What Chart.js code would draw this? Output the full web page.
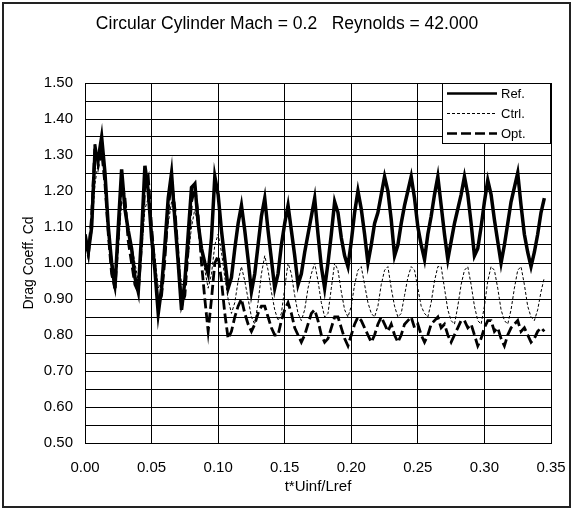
<!DOCTYPE html>
<html>
<head>
<meta charset="utf-8">
<script src="https://cdn.jsdelivr.net/npm/chart.js@4/dist/chart.umd.min.js"></script>
<style>
  html, body { margin: 0; padding: 0; background: #fff; }
  #chart { display: block; }
</style>
</head>
<body>
<canvas id="chart" width="574" height="511"></canvas>
<script>
// time axis (t*Uinf/Lref)
var times = [
    0, 0.0025, 0.005, 0.0075, 0.01, 0.0125, 0.015, 0.0175, 0.02, 0.0225,
    0.025, 0.0275, 0.03, 0.0325, 0.035, 0.0375, 0.04, 0.0425, 0.045, 0.0475,
    0.05, 0.0525, 0.055, 0.0575, 0.06, 0.0625, 0.065, 0.0675, 0.07, 0.0725,
    0.075, 0.0775, 0.08, 0.0825, 0.085, 0.0875, 0.09, 0.0925, 0.095, 0.0975,
    0.1, 0.1025, 0.105, 0.1075, 0.11, 0.1125, 0.115, 0.1175, 0.12, 0.1225,
    0.125, 0.1275, 0.13, 0.1325, 0.135, 0.1375, 0.14, 0.1425, 0.145, 0.1475,
    0.15, 0.1525, 0.155, 0.1575, 0.16, 0.1625, 0.165, 0.1675, 0.17, 0.1725,
    0.175, 0.1775, 0.18, 0.1825, 0.185, 0.1875, 0.19, 0.1925, 0.195, 0.1975,
    0.2, 0.2025, 0.205, 0.2075, 0.21, 0.2125, 0.215, 0.2175, 0.22, 0.2225,
    0.225, 0.2275, 0.23, 0.2325, 0.235, 0.2375, 0.24, 0.2425, 0.245, 0.2475,
    0.25, 0.2525, 0.255, 0.2575, 0.26, 0.2625, 0.265, 0.2675, 0.27, 0.2725,
    0.275, 0.2775, 0.28, 0.2825, 0.285, 0.2875, 0.29, 0.2925, 0.295, 0.2975,
    0.3, 0.3025, 0.305, 0.3075, 0.31, 0.3125, 0.315, 0.3175, 0.32, 0.3225,
    0.325, 0.3275, 0.33, 0.3325, 0.335, 0.3375, 0.34, 0.3425, 0.345
];

// drag coefficient, reference run
var cdRef = [
    1.08, 1.03, 1.10, 1.31, 1.29, 1.35, 1.25, 1.10, 1.00, 0.93,
    1.10, 1.26, 1.15, 1.09, 1.04, 0.96, 0.92, 1.08, 1.27, 1.20,
    1.07, 0.98, 0.86, 0.93, 1.05, 1.18, 1.25, 1.12, 1.00, 0.87,
    0.95, 1.08, 1.21, 1.22, 1.11, 1.04, 1.00, 0.97, 1.07, 1.24,
    1.19, 1.09, 1.01, 0.93, 0.96, 1.04, 1.11, 1.16, 1.09, 1.01,
    0.92, 0.97, 1.05, 1.13, 1.18, 1.09, 1.01, 0.93, 0.97, 1.05,
    1.11, 1.16, 1.09, 1.02, 0.94, 0.97, 1.03, 1.08, 1.13, 1.18,
    1.08, 0.99, 0.93, 1.00, 1.08, 1.17, 1.14, 1.07, 1.02, 0.99,
    1.06, 1.14, 1.20, 1.15, 1.08, 1.00, 1.05, 1.11, 1.14, 1.19,
    1.24, 1.20, 1.12, 1.02, 1.05, 1.11, 1.16, 1.20, 1.24, 1.18,
    1.10, 1.05, 1.01, 1.08, 1.13, 1.19, 1.24, 1.16, 1.08, 1.01,
    1.06, 1.11, 1.15, 1.19, 1.24, 1.19, 1.11, 1.02, 1.04, 1.10,
    1.17, 1.23, 1.19, 1.12, 1.06, 1.00, 1.05, 1.11, 1.17, 1.21,
    1.25, 1.16, 1.08, 1.03, 0.99, 1.03, 1.08, 1.14, 1.18
];

// controlled run
var cdCtrl = [
    1.08, 1.04, 1.08, 1.22, 1.28, 1.30, 1.24, 1.12, 1.02, 0.96,
    1.04, 1.17, 1.16, 1.10, 1.05, 1.00, 0.95, 1.03, 1.15, 1.18,
    1.10, 1.02, 0.93, 0.95, 1.02, 1.11, 1.17, 1.12, 1.03, 0.94,
    0.94, 1.02, 1.10, 1.15, 1.10, 1.03, 0.98, 0.93, 0.97, 1.05,
    1.08, 1.03, 0.96, 0.90, 0.86, 0.89, 0.95, 0.99, 0.95, 0.90,
    0.85, 0.83, 0.89, 0.97, 1.02, 0.98, 0.92, 0.87, 0.84, 0.86,
    0.93, 1.00, 0.97, 0.91, 0.86, 0.84, 0.87, 0.93, 0.97, 1.00,
    0.95, 0.89, 0.85, 0.86, 0.93, 1.00, 0.98, 0.92, 0.87, 0.85,
    0.88, 0.94, 0.98, 0.99, 0.94, 0.89, 0.86, 0.85, 0.88, 0.94,
    0.98, 0.99, 0.93, 0.88, 0.85, 0.86, 0.91, 0.96, 0.99, 0.98,
    0.93, 0.88, 0.86, 0.85, 0.89, 0.95, 0.99, 0.99, 0.93, 0.87,
    0.84, 0.83, 0.88, 0.94, 0.98, 0.99, 0.94, 0.88, 0.84, 0.83,
    0.88, 0.95, 0.99, 0.98, 0.93, 0.87, 0.84, 0.83, 0.87, 0.93,
    0.98, 0.99, 0.94, 0.88, 0.85, 0.84, 0.87, 0.92, 0.96
];

// optimised run
var cdOpt = [
    1.06, 1.02, 1.13, 1.33, 1.27, 1.31, 1.22, 1.08, 0.97, 0.93,
    1.07, 1.22, 1.18, 1.06, 1.00, 0.94, 0.92, 1.05, 1.22, 1.24,
    1.10, 0.99, 0.88, 0.91, 1.01, 1.15, 1.23, 1.15, 1.02, 0.88,
    0.91, 1.04, 1.17, 1.21, 1.13, 1.00, 0.90, 0.81, 0.90, 1.00,
    1.02, 0.95, 0.86, 0.79, 0.81, 0.85, 0.88, 0.90, 0.86, 0.83,
    0.81, 0.83, 0.86, 0.88, 0.88, 0.85, 0.82, 0.80, 0.80, 0.84,
    0.87, 0.89, 0.86, 0.82, 0.80, 0.78, 0.80, 0.83, 0.86, 0.87,
    0.84, 0.80, 0.78, 0.79, 0.82, 0.85, 0.85, 0.82, 0.79, 0.77,
    0.80, 0.83, 0.85, 0.84, 0.82, 0.80, 0.78, 0.80, 0.83, 0.85,
    0.83, 0.81, 0.83, 0.80, 0.78, 0.80, 0.83, 0.84, 0.85, 0.82,
    0.83, 0.80, 0.78, 0.80, 0.83, 0.84, 0.85, 0.82, 0.83, 0.80,
    0.78, 0.80, 0.82, 0.84, 0.84, 0.82, 0.83, 0.80, 0.77, 0.79,
    0.82, 0.84, 0.84, 0.81, 0.82, 0.79, 0.77, 0.80, 0.82, 0.83,
    0.84, 0.81, 0.82, 0.80, 0.78, 0.79, 0.81, 0.82, 0.81
];

var seriesNames = ['Ref.', 'Ctrl.', 'Opt.'];
var xTickLabels = ['0.00', '0.05', '0.10', '0.15', '0.20', '0.25', '0.30', '0.35'];
var yTickLabels = ['0.50', '0.60', '0.70', '0.80', '0.90', '1.00', '1.10', '1.20', '1.30', '1.40', '1.50'];

var fontName = '"Liberation Sans", Arial, sans-serif';

function toPoints(values) {
    return values.map(function(v, i) {
        return { x: times[i], y: v };
    });
}

// white page and outer frame
var framePlugin = {
    id: 'frame',
    beforeDraw: function(chart) {
        var ctx = chart.ctx;
        ctx.save();
        ctx.fillStyle = '#fff';
        ctx.fillRect(0, 0, chart.width, chart.height);
        ctx.restore();
    },
    afterDraw: function(chart) {
        var ctx = chart.ctx;
        ctx.save();
        ctx.strokeStyle = '#222';
        ctx.lineWidth = 2;
        ctx.strokeRect(3, 3, chart.width - 7, chart.height - 7);
        ctx.restore();
    }
};

// boxed legend in the top right corner of the plot
var boxLegendPlugin = {
    id: 'boxLegend',
    afterDatasetsDraw: function(chart) {
        var ctx = chart.ctx;
        var area = chart.chartArea;
        var w = 109, h = 61;
        var left = area.right - w, top = area.top;
        ctx.save();
        ctx.fillStyle = '#fff';
        ctx.fillRect(left, top, w, h);
        ctx.strokeStyle = '#000';
        ctx.lineWidth = 1;
        ctx.strokeRect(left + 0.5, top + 0.5, w - 1, h - 1);
        ctx.font = '13px ' + fontName;
        ctx.textBaseline = 'middle';
        ctx.textAlign = 'left';
        chart.data.datasets.forEach(function(ds, i) {
            var y = top + 10.5 + i * 20;
            ctx.beginPath();
            ctx.setLineDash(ds.borderDash || []);
            ctx.lineWidth = Math.min(ds.borderWidth, 2.5);
            ctx.strokeStyle = ds.borderColor;
            ctx.moveTo(left + 5, y);
            ctx.lineTo(left + 55, y);
            ctx.stroke();
            ctx.setLineDash([]);
            ctx.fillStyle = '#000';
            ctx.fillText(seriesNames[i], left + 59, y + 0.5);
        });
        ctx.restore();
    }
};

var ctx = document.getElementById('chart').getContext('2d');
var chart = new Chart(ctx, {
    type: 'line',
    data: {
        datasets: [{
            label: seriesNames[0],
            data: toPoints(cdRef),
            borderColor: '#000',
            borderWidth: 3.5,
            pointRadius: 0,
            tension: 0
        }, {
            label: seriesNames[1],
            data: toPoints(cdCtrl),
            borderColor: '#000',
            borderWidth: 1,
            borderDash: [3, 2],
            pointRadius: 0,
            tension: 0
        }, {
            label: seriesNames[2],
            data: toPoints(cdOpt),
            borderColor: '#000',
            borderWidth: 2.8,
            borderDash: [10, 4],
            pointRadius: 0,
            tension: 0
        }]
    },
    options: {
        responsive: false,
        animation: false,
        devicePixelRatio: 1,
        layout: { padding: 0 },
        plugins: {
            legend: { display: false },
            tooltip: { enabled: false },
            title: {
                display: true,
                text: 'Circular Cylinder Mach = 0.2   Reynolds = 42.000',
                color: '#000',
                font: { family: fontName, size: 17.5, weight: 'normal' },
                padding: { top: 14, bottom: 48 }
            }
        },
        scales: {
            x: {
                type: 'linear',
                min: 0,
                max: 0.35,
                afterFit: function(scale) {
                    scale.height = 68;
                    scale.paddingLeft = 0;
                    scale.paddingRight = 0;
                },
                ticks: {
                    stepSize: 0.05,
                    color: '#000',
                    padding: 16,
                    maxRotation: 0,
                    autoSkip: false,
                    font: { family: fontName, size: 15 },
                    callback: function(v) { return xTickLabels[Math.round(v / 0.05)]; }
                },
                grid: { color: '#000', drawTicks: false },
                border: { color: '#000' },
                title: {
                    display: true,
                    text: 't*Uinf/Lref',
                    color: '#000',
                    font: { family: fontName, size: 15 },
                    padding: { top: 0, bottom: 15 }
                }
            },
            y: {
                min: 0.5,
                max: 1.5,
                afterFit: function(scale) { scale.width = 85; },
                ticks: {
                    stepSize: 0.05,
                    color: '#000',
                    padding: 12,
                    autoSkip: false,
                    font: { family: fontName, size: 15 },
                    callback: function(v) {
                        var k = Math.round((v - 0.5) / 0.05);
                        return k % 2 === 0 ? yTickLabels[k / 2] : '';
                    }
                },
                grid: { color: '#000', drawTicks: false },
                border: { color: '#000' },
                title: {
                    display: true,
                    text: 'Drag Coeff. Cd',
                    color: '#000',
                    font: { family: fontName, size: 14 },
                    padding: { top: 21, bottom: 0 }
                }
            },
            // empty axis on the right, only keeps the white margin
            margin: {
                position: 'right',
                afterFit: function(scale) { scale.width = 23; },
                grid: { display: false },
                border: { display: false },
                ticks: { display: false }
            }
        }
    },
    plugins: [framePlugin, boxLegendPlugin]
});
</script>
</body>
</html>
